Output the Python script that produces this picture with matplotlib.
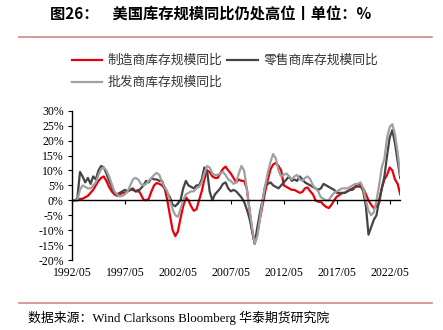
import matplotlib
matplotlib.use('Agg')
import matplotlib.pyplot as plt
import matplotlib.dates as mdates
from matplotlib.lines import Line2D
import pandas as pd

# quarterly readings, 1992/05 .. 2023/05
dates = pd.date_range('1992-05-01', '2023-05-01', freq='3MS')

manuf = [0, 0, 0, 0.5, 0.5, 1, 1.5, 2.5, 3.5, 5, 6.5, 7.5, 8, 6.5, 4.5, 3,
         2, 1.5, 2, 2.5, 2.5, 3, 3.5, 3.5, 3, 3.5, 2, 0.2, 0, 0.5, 3, 5,
         5.8, 5.5, 5, 4, 0, -5, -10, -12, -10.5, -6, -2, 1, 0, -2, -3.5, -3,
         0, 3, 7, 10, 9.5, 8, 7.5, 7.5, 9, 10.5, 11.3, 10, 9, 7.5, 6, 7,
         6.5, 6.5, 4, -3, -10, -14.5, -11, -6, -1.5, 3, 7, 10.5, 12, 12.5, 11.5, 10,
         5, 4.5, 4, 3.5, 3.5, 3, 2.5, 2.8, 4, 4.3, 3, 2, 0, -0.5, -0.5, -1.5,
         -2.2, -2.6, -1.5, 0, 1.2, 1.8, 2.4, 2.5, 3, 3.5, 4, 4.5, 4.6, 4.5, 4, 2,
         0, -1.5, -2.6, -2, -1, 4, 7, 8.5, 11, 10, 7, 5.5, 2]

retail = [0, 0, 0.5, 9.5, 8, 6, 7.5, 5.5, 8, 7, 10, 11.5, 11, 9, 6.5, 4.5,
          2.5, 2, 2.5, 3, 3.5, 3, 3.5, 4, 3, 3, 4, 5, 6.5, 6, 7.5, 7,
          7, 6.5, 6.5, 4, 2.5, 1, -1.5, -2, -1, 0, 4, 6.5, 5, 4.5, 4, 5,
          5, 7, 11, 10, 3, 0, 2, 3, 4, 5.5, 6, 4, 3, 3.5, 3, 2,
          1, -0.5, -3, -6, -10, -14.5, -9, -4, 0, 5, 5.5, 6, 5, 4.5, 4, 5,
          6, 7, 8, 6.5, 7, 6.5, 8, 7, 6, 5.5, 5, 4.5, 4, 3.5, 4, 5.5,
          5, 4.5, 4, 3.5, 2.5, 2.5, 2.5, 2.5, 3, 3.5, 3.5, 4.5, 5.5, 5, 3, -2,
          -11.5, -9, -6.5, -5, 0, 4, 8, 15, 21, 23.5, 19, 13, 7.5]

wholesale = [0, 0, 0, 3.5, 5, 4.5, 4, 4, 5, 6, 8.5, 10.5, 11, 10, 8, 5.5,
             3, 2, 1.3, 1.5, 2, 3, 5, 7, 7.5, 7, 5.5, 5, 5.5, 6.5, 7.5, 8.5,
             9.2, 8.5, 6, 4.5, 3, 0, -3, -5, -5.5, -3, 0, 2, 2.5, 3, 3, 4,
             4.5, 6, 9, 11.5, 11, 9, 8.5, 8.5, 9, 9.5, 8.5, 7, 6.5, 5.5, 6, 9,
             11.5, 10, 4, -3, -9, -14.5, -12, -6, 0, 5, 9.5, 13, 15.5, 14, 10, 8,
             8.5, 9, 8, 7, 8, 8.5, 7, 6.5, 7.5, 8, 7, 5, 4, 3, 1, 0.5,
             0, 0, 1.5, 2.5, 3, 3.5, 4, 4, 4, 4.5, 5, 5.5, 5.5, 6, 4, 0,
             -3.5, -5, -4, 0, 5, 11, 14, 21, 24.5, 25.5, 22, 16, 8.5]

names = ['制造商库存规模同比', '零售商库存规模同比', '批发商库存规模同比']
colors = ['#E8000B', '#444444', '#A0A0A0']

tick_dates = pd.date_range('1992-05-01', '2022-05-01', freq='60MS')
yticks = [-20, -15, -10, -5, 0, 5, 10, 15, 20, 25, 30]

cjk = ['Noto Sans CJK SC', 'DejaVu Sans']
serif = ['Liberation Serif', 'Noto Sans CJK SC']
plt.rcParams['font.family'] = serif
plt.rcParams['font.size'] = 8.5

fig = plt.figure(figsize=(4.43, 3.30), dpi=100)
ax = fig.add_axes([0.1625, 0.212, 0.741, 0.4525])

h1, = ax.plot(dates, manuf, color=colors[0], lw=1.6)
h2, = ax.plot(dates, retail, color=colors[1], lw=1.6)
h3, = ax.plot(dates, wholesale, color=colors[2], lw=1.6)

ax.set_xlim(dates[0], dates[-1])
ax.set_ylim(-20, 30)
ax.set_yticks(yticks)
ax.yaxis.set_major_formatter(plt.FuncFormatter(lambda v, p: '%d%%' % v))
ax.set_xticks(tick_dates)
ax.xaxis.set_major_formatter(mdates.DateFormatter('%Y/%m'))

ax.spines['top'].set_visible(False)
ax.spines['right'].set_visible(False)
ax.spines['bottom'].set_position(('data', 0))
ax.spines['bottom'].set_linewidth(1.0)
ax.spines['left'].set_linewidth(1.0)
ax.tick_params(axis='x', direction='out', length=3, pad=45, labelsize=8.5)
ax.tick_params(axis='y', direction='out', length=3, pad=3, labelsize=8.5)

leg = fig.legend([h1, h3, h2], [names[0], names[2], names[1]], ncol=2,
                 loc='upper left', bbox_to_anchor=(0.162, 0.836), frameon=False,
                 prop={'family': cjk, 'size': 9.2}, handlelength=2.4,
                 handletextpad=0.4, columnspacing=0.4, labelspacing=0.7,
                 borderpad=0, borderaxespad=0)
for t in leg.get_texts():
    t.set_color('#333333')

fig.text(0.113, 0.955, '图26：    美国库存规模同比仍处高位丨单位：%', family=cjk,
         fontsize=11, fontweight='bold', va='center', ha='left')
fig.text(0.063, 0.036, '数据来源：Wind Clarksons Bloomberg 华泰期货研究院',
         family=serif, fontsize=9.3, va='center', ha='left')

fig.add_artist(Line2D([0.043, 0.975], [0.888, 0.888], color='#D08A8A', lw=1.2))
fig.add_artist(Line2D([0.043, 0.975], [0.082, 0.082], color='#D08A8A', lw=1.2))

fig.savefig('out.png', dpi=100)
